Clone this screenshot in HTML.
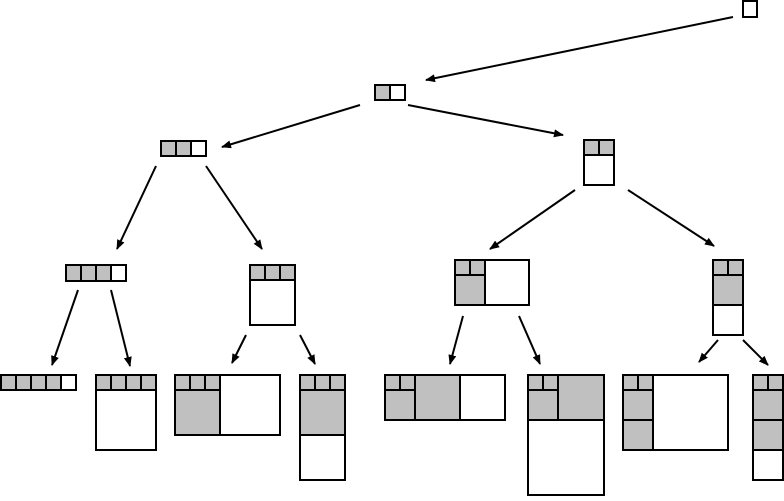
<!DOCTYPE html>
<html><head><style>html,body{margin:0;padding:0;background:#fff}</style></head><body>
<svg width="784" height="496" viewBox="0 0 784 496" xmlns="http://www.w3.org/2000/svg">
<defs><marker id="a" markerWidth="10" markerHeight="8" refX="9" refY="4" orient="auto" markerUnits="userSpaceOnUse"><path d="M0,0 L10,4 L0,8 z" fill="#000"/></marker></defs>
<g stroke="#000" stroke-width="2" fill="none" marker-end="url(#a)">
<line x1="733" y1="17" x2="426" y2="80"/>
<line x1="360" y1="105" x2="222" y2="147"/>
<line x1="408" y1="105" x2="563" y2="135"/>
<line x1="156" y1="166" x2="117" y2="249"/>
<line x1="206" y1="166" x2="262" y2="249"/>
<line x1="575" y1="190" x2="490" y2="249"/>
<line x1="628" y1="190" x2="714" y2="246"/>
<line x1="78" y1="290" x2="52" y2="365"/>
<line x1="111" y1="290" x2="130" y2="366"/>
<line x1="246" y1="335" x2="232" y2="363"/>
<line x1="300" y1="335" x2="315" y2="364"/>
<line x1="463" y1="316" x2="450" y2="364"/>
<line x1="519" y1="316" x2="540" y2="364"/>
<line x1="718" y1="340" x2="699" y2="362"/>
<line x1="743" y1="340" x2="768" y2="365"/>
</g>
<g stroke="#000" stroke-width="2">
<!-- root -->
<rect x="743" y="1" width="14" height="16" fill="#fff"/>
<!-- L1 -->
<rect x="375" y="85" width="15" height="15" fill="#c0c0c0"/><rect x="390" y="85" width="15" height="15" fill="#fff"/>
<!-- L2 left -->
<rect x="161" y="141" width="15" height="15" fill="#c0c0c0"/><rect x="176" y="141" width="15" height="15" fill="#c0c0c0"/><rect x="191" y="141" width="15" height="15" fill="#fff"/>
<!-- L2 right -->
<rect x="584" y="140" width="30" height="45" fill="#fff"/>
<rect x="584" y="140" width="15" height="15" fill="#c0c0c0"/><rect x="599" y="140" width="15" height="15" fill="#c0c0c0"/>
<!-- L3 A -->
<rect x="66" y="265" width="15" height="16" fill="#c0c0c0"/><rect x="81" y="265" width="15" height="16" fill="#c0c0c0"/><rect x="96" y="265" width="15" height="16" fill="#c0c0c0"/><rect x="111" y="265" width="15" height="16" fill="#fff"/>
<!-- L3 B -->
<rect x="250" y="265" width="45" height="60" fill="#fff"/>
<rect x="250" y="265" width="15" height="15" fill="#c0c0c0"/><rect x="265" y="265" width="15" height="15" fill="#c0c0c0"/><rect x="280" y="265" width="15" height="15" fill="#c0c0c0"/>
<!-- L3 C -->
<rect x="455" y="260" width="74" height="45" fill="#fff"/>
<rect x="455" y="275" width="30" height="30" fill="#c0c0c0"/>
<rect x="455" y="260" width="15" height="15" fill="#c0c0c0"/><rect x="470" y="260" width="15" height="15" fill="#c0c0c0"/>
<!-- L3 D -->
<rect x="713" y="260" width="30" height="75" fill="#fff"/>
<rect x="713" y="275" width="30" height="30" fill="#c0c0c0"/>
<rect x="713" y="260" width="15" height="15" fill="#c0c0c0"/><rect x="728" y="260" width="15" height="15" fill="#c0c0c0"/>
<!-- L4 1 -->
<rect x="1" y="375" width="15" height="15" fill="#c0c0c0"/><rect x="16" y="375" width="15" height="15" fill="#c0c0c0"/><rect x="31" y="375" width="15" height="15" fill="#c0c0c0"/><rect x="46" y="375" width="15" height="15" fill="#c0c0c0"/><rect x="61" y="375" width="15" height="15" fill="#fff"/>
<!-- L4 2 -->
<rect x="96" y="375" width="60" height="75" fill="#fff"/>
<rect x="96" y="375" width="15" height="15" fill="#c0c0c0"/><rect x="111" y="375" width="15" height="15" fill="#c0c0c0"/><rect x="126" y="375" width="15" height="15" fill="#c0c0c0"/><rect x="141" y="375" width="15" height="15" fill="#c0c0c0"/>
<!-- L4 3 -->
<rect x="175" y="375" width="105" height="60" fill="#fff"/>
<rect x="175" y="390" width="45" height="45" fill="#c0c0c0"/>
<rect x="175" y="375" width="15" height="15" fill="#c0c0c0"/><rect x="190" y="375" width="15" height="15" fill="#c0c0c0"/><rect x="205" y="375" width="15" height="15" fill="#c0c0c0"/>
<!-- L4 4 -->
<rect x="300" y="375" width="45" height="105" fill="#fff"/>
<rect x="300" y="390" width="45" height="45" fill="#c0c0c0"/>
<rect x="300" y="375" width="15" height="15" fill="#c0c0c0"/><rect x="315" y="375" width="15" height="15" fill="#c0c0c0"/><rect x="330" y="375" width="15" height="15" fill="#c0c0c0"/>
<!-- L4 5 -->
<rect x="385" y="375" width="120" height="45" fill="#fff"/>
<rect x="415" y="375" width="45" height="45" fill="#c0c0c0"/>
<rect x="385" y="390" width="30" height="30" fill="#c0c0c0"/>
<rect x="385" y="375" width="15" height="15" fill="#c0c0c0"/><rect x="400" y="375" width="15" height="15" fill="#c0c0c0"/>
<!-- L4 6 -->
<rect x="528" y="375" width="76" height="120" fill="#fff"/>
<rect x="558" y="375" width="46" height="45" fill="#c0c0c0"/>
<rect x="528" y="390" width="30" height="30" fill="#c0c0c0"/>
<rect x="528" y="375" width="15" height="15" fill="#c0c0c0"/><rect x="543" y="375" width="15" height="15" fill="#c0c0c0"/>
<!-- L4 7 -->
<rect x="623" y="375" width="105" height="75" fill="#fff"/>
<rect x="623" y="390" width="30" height="30" fill="#c0c0c0"/>
<rect x="623" y="420" width="30" height="30" fill="#c0c0c0"/>
<rect x="623" y="375" width="15" height="15" fill="#c0c0c0"/><rect x="638" y="375" width="15" height="15" fill="#c0c0c0"/>
<!-- L4 8 -->
<rect x="753" y="375" width="30" height="105" fill="#fff"/>
<rect x="753" y="390" width="30" height="30" fill="#c0c0c0"/>
<rect x="753" y="420" width="30" height="30" fill="#c0c0c0"/>
<rect x="753" y="375" width="15" height="15" fill="#c0c0c0"/><rect x="768" y="375" width="15" height="15" fill="#c0c0c0"/>
</g>
</svg>
</body></html>
